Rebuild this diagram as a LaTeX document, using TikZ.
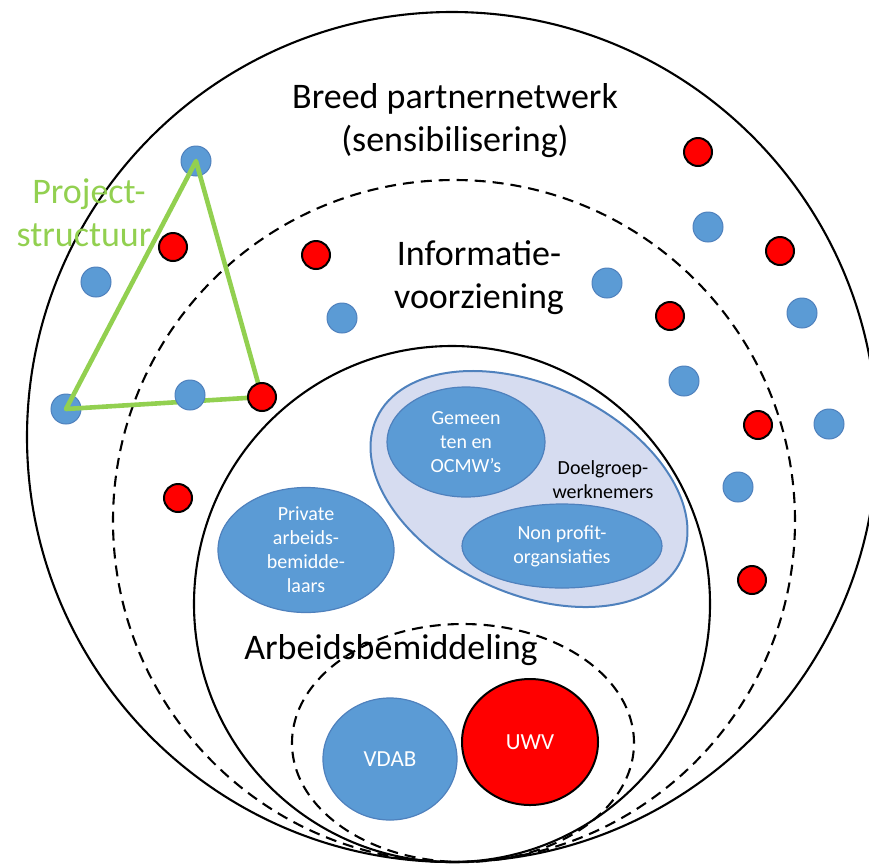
\documentclass[tikz,border=0pt]{standalone}
\usepackage{fontspec}
\setmainfont{Carlito}
\usetikzlibrary{shapes.geometric}
\definecolor{dotblue}{HTML}{5B9BD5}
\definecolor{dotbluedk}{HTML}{4F81BD}
\definecolor{lightfill}{HTML}{D6DCF0}
\definecolor{projgreen}{HTML}{92D050}
\begin{document}
\begin{tikzpicture}[x=1pt,y=-1pt,
  bdot/.style={circle, fill=dotblue, draw=dotbluedk, line width=1pt, minimum size=30pt, inner sep=0pt},
  rdot/.style={circle, fill=red, draw=black, line width=2pt, minimum size=28pt, inner sep=0pt},
  ring/.style={draw=black, line width=2.1pt},
  dring/.style={ring, dash pattern=on 11pt off 7pt},
  bigtext/.style={font=\fontsize{36}{43}\selectfont, align=center, text=black, inner sep=0pt},
  smalltext/.style={font=\fontsize{20}{24}\selectfont, align=center, inner sep=0pt},
  blob/.style={ellipse, fill=dotblue, draw=dotbluedk, line width=1.2pt, inner sep=0pt, text=white}
]
\useasboundingbox (0,0) rectangle (869,863);
% rings
\node[circle, ring, minimum size=850pt, inner sep=0pt] (outer) at (452,437) {};
\node[circle, dring, minimum size=682pt, inner sep=0pt] (info) at (454,521) {};
\node[circle, ring, minimum size=516pt, inner sep=0pt] (arb) at (452,604) {};
\node[ellipse, dring, minimum width=342pt, minimum height=238pt, inner sep=0pt] (core) at (463,743) {};
% labels
\node[bigtext] (breed) at (455,121) {Breed partnernetwerk\\(sensibilisering)};
\node[bigtext] (infolab) at (479,278) {Informatie-\\voorziening};
\node[bigtext] (arblab) at (391,650) {Arbeidsbemiddeling};
\node[bigtext, text=projgreen] (proj) at (84,213) {\hspace*{10pt}Project-\\structuur};
% dots
\node[bdot] (b1) at (196,161) {};
\node[bdot] (b2) at (66,409) {};
\draw[projgreen, line width=4.6pt, line join=round] (b1.center) -- (b2.center) -- (262,397) coordinate (tr) -- cycle;
\node[bdot] (b3) at (190,395) {};
\node[rdot] (r1) at (tr) {};
\node[rdot] (r2) at (173,247) {};
\node[bdot] (b4) at (96,282) {};
\node[rdot] (r3) at (316,255) {};
\node[bdot] (b5) at (342,318) {};
\node[rdot] (r4) at (178,498) {};
\node[bdot] (b6) at (607,283) {};
\node[rdot] (r5) at (698,152) {};
\node[bdot] (b7) at (708,227) {};
\node[rdot] (r6) at (780,251) {};
\node[rdot] (r7) at (670,316) {};
\node[bdot] (b8) at (802,313) {};
\node[bdot] (b9) at (684,381) {};
\node[rdot] (r8) at (758,425) {};
\node[bdot] (b10) at (829,424) {};
\node[bdot] (b11) at (738,487) {};
\node[rdot] (r9) at (752,580) {};
% doelgroep group
\node[ellipse, fill=lightfill, draw=dotbluedk, line width=2pt, minimum width=336pt, minimum height=208pt, rotate=-25, inner sep=0pt] (doel) at (529,489) {};
\node[blob, minimum width=158pt, minimum height=110pt, smalltext, text=white] (gem) at (466,442) {Gemeen\\ten en\\OCMW’s};
\node[blob, minimum width=200pt, minimum height=84pt, smalltext, text=white] (np) at (562,546) {Non profit-\\organsiaties};
\node[smalltext, text=black] (doellab) at (603,480) {Doelgroep-\\werknemers};
\node[blob, minimum width=176pt, minimum height=125pt, smalltext, text=white] (priv) at (306,550) {Private\\arbeids-\\bemidde-\\laars};
% core
\node[blob, minimum width=134pt, minimum height=122pt, font=\fontsize{23}{27}\selectfont] (vdab) at (390,759) {VDAB};
\node[ellipse, fill=red, draw=black, line width=2pt, minimum width=136pt, minimum height=126pt, inner sep=0pt, text=white, font=\fontsize{23}{27}\selectfont] (uwv) at (530,742) {UWV};
\end{tikzpicture}
\end{document}
